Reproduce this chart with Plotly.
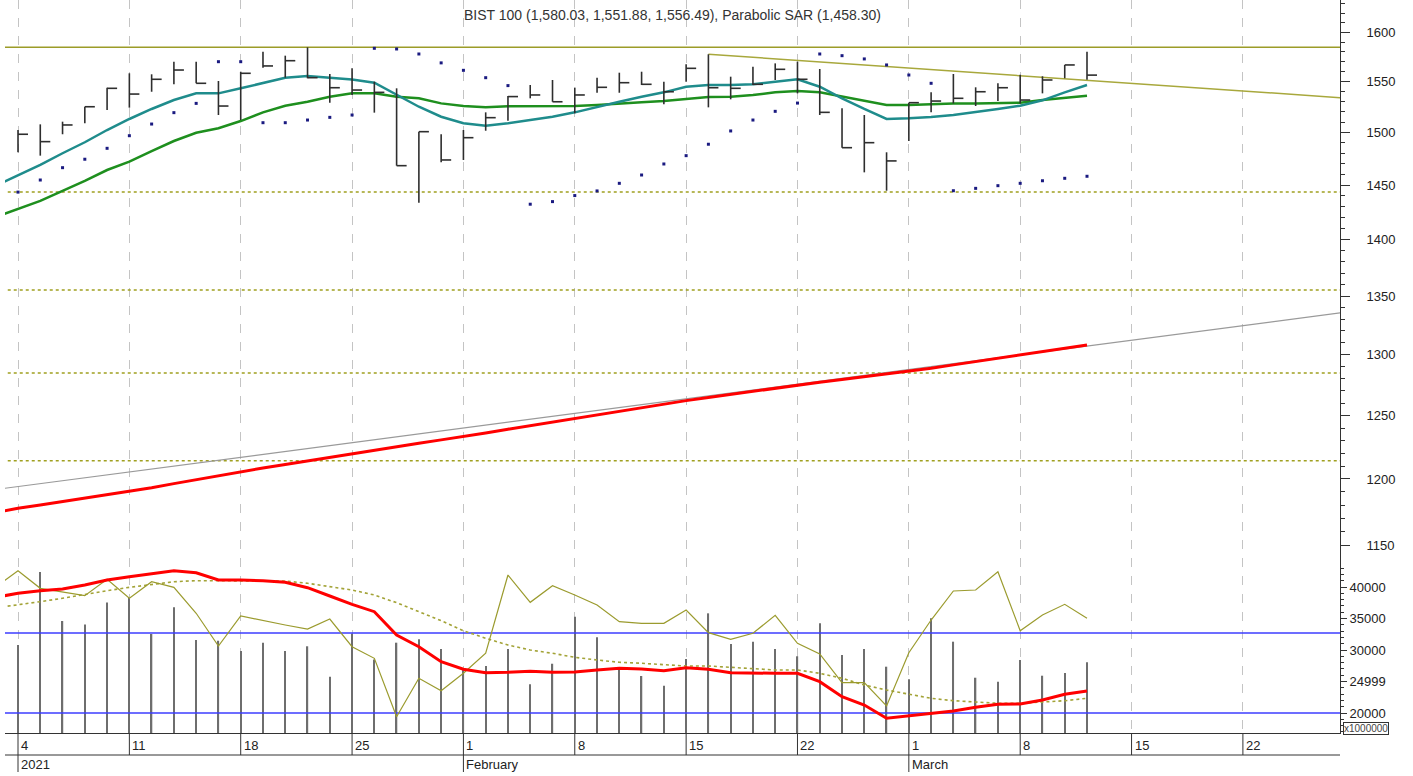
import plotly.graph_objects as go
import pandas as pd

# ---------------- data ----------------
dates = [d.strftime("%Y-%m-%d") for d in pd.bdate_range("2021-01-04", "2021-03-11")]  # 49 trading days
# indicator lines also carry the value of the previous session (2020-12-31) so they reach the left edge
ind_dates = ["2020-12-31"] + dates

high = [1502.4, 1507.9, 1510.5, 1525.1, 1543.9, 1558.3, 1557.3, 1570.0, 1570.0, 1550.6,
        1559.9, 1580.2, 1576.1, 1584.6, 1557.6, 1563.3, 1549.9, 1543.3, 1500.8, 1498.3,
        1502.4, 1519.6, 1535.7, 1546.6, 1551.6, 1544.0, 1553.9, 1558.9, 1559.9, 1549.9,
        1567.4, 1577.5, 1554.9, 1565.0, 1568.3, 1570.0, 1562.6, 1523.6, 1517.0, 1481.0,
        1529.1, 1539.3, 1557.6, 1544.3, 1548.3, 1556.9, 1555.3, 1566.7, 1580.03]
low = [1481.0, 1477.8, 1498.3, 1508.9, 1521.9, 1524.2, 1539.9, 1547.3, 1548.3, 1517.0,
       1512.1, 1564.0, 1553.9, 1553.3, 1529.1, 1536.7, 1519.3, 1468.3, 1433.7, 1471.5,
       1473.7, 1501.7, 1511.4, 1533.4, 1530.0, 1518.7, 1538.9, 1538.9, 1546.6, 1527.5,
       1549.9, 1524.5, 1532.4, 1546.6, 1551.6, 1538.3, 1517.0, 1485.4, 1462.0, 1444.8,
       1491.8, 1519.6, 1528.4, 1525.8, 1530.7, 1528.4, 1538.3, 1553.3, 1551.88]
close = [1498.3, 1491.2, 1507.3, 1525.1, 1543.3, 1537.6, 1552.3, 1561.6, 1548.3, 1525.8,
         1558.3, 1565.7, 1571.0, 1553.9, 1543.9, 1541.6, 1539.3, 1468.3, 1500.8, 1473.7,
         1495.0, 1514.4, 1535.1, 1536.7, 1530.0, 1536.7, 1544.3, 1548.9, 1547.3, 1539.9,
         1563.3, 1543.9, 1543.3, 1547.3, 1562.3, 1552.3, 1519.6, 1485.4, 1490.2, 1472.8,
         1529.1, 1530.7, 1533.4, 1539.9, 1543.9, 1531.7, 1551.6, 1566.7, 1556.49]
sar = [1443.5, 1454.8, 1466.4, 1474.4, 1484.8, 1496.9, 1508.2, 1519.3, 1528.4, 1570.0,
       1570.0, 1509.5, 1509.5, 1512.1, 1514.7, 1517.0, 1583.6, 1582.9, 1577.8, 1568.8,
       1561.3, 1553.9, 1546.0, 1432.3, 1434.7, 1440.3, 1444.6, 1451.7, 1459.5, 1469.9,
       1477.8, 1488.7, 1501.5, 1512.1, 1520.6, 1528.7, 1577.8, 1576.1, 1572.8, 1566.7,
       1556.6, 1548.3, 1444.8, 1447.0, 1449.5, 1451.7, 1454.1, 1456.4, 1458.30]
ma_short = [1449.5, 1459.5, 1469.0, 1480.1, 1490.6, 1502.4, 1513.1, 1522.9, 1531.7, 1538.3, 1538.3,
            1543.3, 1548.3, 1553.9, 1555.6, 1553.9, 1552.0, 1548.9, 1536.7, 1525.1, 1515.3,
            1508.9, 1506.6, 1508.9, 1512.1, 1515.3, 1519.6, 1525.1, 1530.0, 1535.0, 1539.3,
            1544.9, 1546.6, 1546.6, 1547.3, 1549.9, 1552.3, 1544.9, 1533.4, 1522.9, 1513.1,
            1513.8, 1515.0, 1517.0, 1519.6, 1522.9, 1526.1, 1531.4, 1539.3, 1546.6]
ma_mid = [1420.6, 1427.9, 1435.3, 1444.6, 1453.9, 1464.2, 1472.1, 1482.2, 1491.8, 1499.8, 1504.1,
          1511.1, 1519.6, 1526.1, 1530.0, 1535.0, 1538.3, 1538.3, 1535.0, 1533.4, 1528.4,
          1525.8, 1524.5, 1525.5, 1525.5, 1525.5, 1525.8, 1526.8, 1527.8, 1529.4, 1530.7,
          1532.7, 1534.7, 1535.0, 1536.7, 1539.3, 1540.6, 1539.3, 1535.0, 1531.0, 1526.8,
          1526.8, 1527.8, 1528.4, 1528.4, 1528.8, 1529.1, 1531.7, 1534.0, 1536.0]
ma_long = [1174.2, 1177.6, 1180.1, 1182.7, 1185.2, 1187.7, 1190.3, 1193.3, 1196.4, 1199.5, 1202.6,
           1205.7, 1208.5, 1211.3, 1214.1, 1217.0, 1219.9, 1222.6, 1225.2, 1227.9, 1230.6,
           1233.2, 1236.1, 1239.1, 1242.0, 1244.9, 1247.9, 1250.7, 1253.5, 1256.4, 1259.3,
           1262.1, 1264.6, 1267.2, 1269.8, 1272.4, 1275.0, 1277.2, 1279.3, 1281.5, 1283.7,
           1285.9, 1288.7, 1291.5, 1294.2, 1297.1, 1299.8, 1302.6, 1305.5, 1308.2]

# volume (x1,000,000)
volume = [30790, 42380, 34600, 34050, 37540, 38250, 32540, 36770, 31590, 31470,
          29840, 31160, 29840, 30590, 25760, 32620, 28490, 31160, 31700, 30160,
          26820, 27460, 30160, 24550, 27820, 35280, 32010, 26820, 25870, 24330,
          28570, 35820, 30950, 31320, 30160, 29000, 34240, 29200, 30160, 27350,
          25350, 35030, 31320, 25600, 24970, 28410, 25920, 26350, 28050]
# lower-panel indicator lines, expressed on the volume scale
osc_line = [39990, 42590, 39790, 39160, 38620, 41220, 38210, 40840, 39950, 35830, 30630,
            35400, 34650, 33970, 33330, 34920, 30520, 28680, 19410, 25510, 23540,
            26300, 29480, 41900, 37570, 40210, 38730, 37140, 34490, 34240, 34240,
            36350, 32750, 31700, 32650, 35510, 31060, 29370, 24810, 24810, 21110,
            29570, 34760, 39370, 39520, 42430, 33060, 35560, 37250, 35030]
osc_red = [38365, 39000, 39410, 39680, 40320, 41110, 41640, 42170, 42590, 42270, 41110,
           41110, 41000, 40750, 39890, 38570, 37250, 36080, 32380, 30520, 28140,
           26940, 26400, 26460, 26620, 26460, 26510, 26830, 27100, 26980, 26710,
           27190, 26940, 26400, 26300, 26300, 26300, 24970, 22590, 21270, 19160,
           19570, 19950, 20320, 20900, 21380, 21430, 22060, 22970, 23490]
osc_signal = [36700, 37140, 37670, 38210, 38840, 39410, 39950, 40430, 40840, 41000, 41000,
              41000, 41000, 40950, 40590, 40050, 39520, 38730, 37510, 36080, 34650,
              33060, 31860, 30790, 30000, 29480, 28840, 28410, 28050, 27890, 27730,
              27460, 27460, 27250, 27030, 26830, 26830, 26300, 25510, 24440, 23650,
              22970, 22330, 21950, 21700, 21540, 21540, 21790, 21950, 22330]
osc_levels = [32700, 20000]

# horizontal price levels and trend lines
top_level = 1584.6
fib_levels = [1443.6, 1355.3, 1284.8, 1214.2]
trend_up_idx = [-1, 60]
trend_up_val = [1191.9, 1337.1]
trend_down_idx = [31, 60]
trend_down_val = [1577.5, 1533.1]

week_idx = [0, 5, 10, 15, 20, 25, 30, 35, 40, 45, 50, 55]
week_labels = ["4", "11", "18", "25", "1", "8", "15", "22", "1", "8", "15", "22"]
month_idx = [0, 20, 40]
month_labels = ["2021", "February", "March"]

price_ticks = [1150, 1200, 1250, 1300, 1350, 1400, 1450, 1500, 1550, 1600]
vol_ticks = [20000, 24999, 30000, 35000, 40000]

title = "BIST 100 (1,580.03, 1,551.88, 1,556.49), Parabolic SAR (1,458.30)"

# ---------------- figure ----------------
xi = list(range(len(dates)))
xind = list(range(-1, len(dates)))
X_LEFT, X_RIGHT = -1, 60
FONT = "Arial, Liberation Sans, sans-serif"

fig = go.Figure()

# volume bars
fig.add_trace(go.Bar(x=xi, y=volume, yaxis="y2", width=0.06,
                     marker=dict(color="#6e6e6e", line=dict(width=0)), hoverinfo="skip"))

# oscillator levels (blue)
for lv in osc_levels:
    fig.add_trace(go.Scatter(x=[X_LEFT, X_RIGHT], y=[lv, lv], yaxis="y2", mode="lines",
                             line=dict(color="#3c3cff", width=1.6), hoverinfo="skip"))

fig.add_trace(go.Scatter(x=xind, y=osc_signal, yaxis="y2", mode="lines",
                         line=dict(color="#a3a337", width=1.6, dash="dot")))
fig.add_trace(go.Scatter(x=xind, y=osc_line, yaxis="y2", mode="lines",
                         line=dict(color="#9b9b2e", width=1.2)))
fig.add_trace(go.Scatter(x=xind, y=osc_red, yaxis="y2", mode="lines",
                         line=dict(color="#ff0000", width=3)))

# price levels
fig.add_trace(go.Scatter(x=[X_LEFT, X_RIGHT], y=[top_level, top_level], mode="lines",
                         line=dict(color="#9c9c28", width=1.5)))
for lv in fib_levels:
    fig.add_trace(go.Scatter(x=[X_LEFT, X_RIGHT], y=[lv, lv], mode="lines",
                             line=dict(color="#a0a020", width=1.5, dash="dot")))

# trend lines
fig.add_trace(go.Scatter(x=trend_up_idx, y=trend_up_val, mode="lines",
                         line=dict(color="#9a9a9a", width=1.2)))
fig.add_trace(go.Scatter(x=trend_down_idx, y=trend_down_val, mode="lines",
                         line=dict(color="#a8a83c", width=1.5)))

# long moving average
fig.add_trace(go.Scatter(x=xind, y=ma_long, mode="lines", line=dict(color="#ff0000", width=3)))

# moving averages
fig.add_trace(go.Scatter(x=xind, y=ma_mid, mode="lines", line=dict(color="#1e8f1e", width=2.5)))
fig.add_trace(go.Scatter(x=xind, y=ma_short, mode="lines", line=dict(color="#1f8c8c", width=2.5)))

# HLC bars (vertical high-low + close tick on the right)
bx, by = [], []
for i, (h, l, c) in enumerate(zip(high, low, close)):
    bx += [i, i, None, i, i + 0.45, None]
    by += [l, h, None, c, c, None]
fig.add_trace(go.Scatter(x=bx, y=by, mode="lines", line=dict(color="#2e2e2e", width=1.6),
                         connectgaps=False, hoverinfo="skip"))

# parabolic SAR
fig.add_trace(go.Scatter(x=xi, y=sar, mode="markers",
                         marker=dict(symbol="square", size=3, color="#1a1a80")))

# ---------------- layout ----------------
shapes = []
row1 = -22 / 733
row2 = -39 / 733
for w in week_idx:
    shapes.append(dict(type="line", xref="x", yref="paper", x0=w, x1=w, y0=0, y1=row1,
                       line=dict(color="#333", width=1)))
for m in month_idx:
    shapes.append(dict(type="line", xref="x", yref="paper", x0=m, x1=m, y0=row1, y1=row2,
                       line=dict(color="#333", width=1)))
shapes.append(dict(type="line", xref="paper", yref="paper", x0=0, x1=1, y0=row1, y1=row1,
                   line=dict(color="#333", width=1)))

annotations = []
for w, t in zip(week_idx, week_labels):
    annotations.append(dict(x=w, xref="x", y=-12 / 733, yref="paper", text=t, showarrow=False,
                            xanchor="left", yanchor="middle", xshift=1,
                            font=dict(family=FONT, size=13, color="#222")))
for m, t in zip(month_idx, month_labels):
    annotations.append(dict(x=m, xref="x", y=-31 / 733, yref="paper", text=t, showarrow=False,
                            xanchor="left", yanchor="middle", xshift=1,
                            font=dict(family=FONT, size=13, color="#222")))
annotations.append(dict(x=0.5, xref="paper", y=1 - 15 / 733, yref="paper", text=title,
                        showarrow=False, xanchor="center", yanchor="middle",
                        font=dict(family=FONT, size=14, color="#333")))
annotations.append(dict(x=1.0022, xref="paper", y=5 / 733, yref="paper", text="x1000000",
                        showarrow=False, xanchor="left", yanchor="middle",
                        bordercolor="#333", borderwidth=1, borderpad=0,
                        font=dict(family=FONT, size=10, color="#444")))

fig.update_layout(
    width=1413, height=776,
    margin=dict(l=5, r=73, t=0, b=43),
    paper_bgcolor="white", plot_bgcolor="white",
    showlegend=False,
    shapes=shapes, annotations=annotations,
    xaxis=dict(range=[-0.584, 59.36], tickvals=week_idx, showticklabels=False,
               showgrid=True, gridcolor="#c4c4c4", griddash="dash", gridwidth=1,
               showline=True, linecolor="#333", linewidth=1, ticks="", zeroline=False),
    yaxis=dict(type="log", range=[3.00812, 3.213155], side="right",
               tickvals=price_ticks, ticktext=[str(v) for v in price_ticks],
               showgrid=False, zeroline=False, showline=True, linecolor="#333", linewidth=1,
               ticks="outside", ticklen=9, tickcolor="#333", ticklabelstandoff=14,
               tickfont=dict(family=FONT, size=13, color="#222"),
               minor=dict(tickvals=list(range(1150, 1640, 10)), ticks="outside",
                          ticklen=4, tickcolor="#333", showgrid=False)),
    yaxis2=dict(overlaying="y", side="right", range=[16825, 133175],
                tickvals=vol_ticks, ticktext=[str(v) for v in vol_ticks],
                showgrid=False, zeroline=False, showline=False,
                ticks="outside", ticklen=6, tickcolor="#333",
                tickfont=dict(family=FONT, size=13, color="#222"),
                minor=dict(tickvals=list(range(17000, 44000, 1000)), ticks="outside",
                           ticklen=3, tickcolor="#333", showgrid=False)),
)

fig.write_html(
    "out.html",
    config={"displayModeBar": False},
    post_script="document.body.style.margin='0';document.body.style.overflow='hidden';",
)
